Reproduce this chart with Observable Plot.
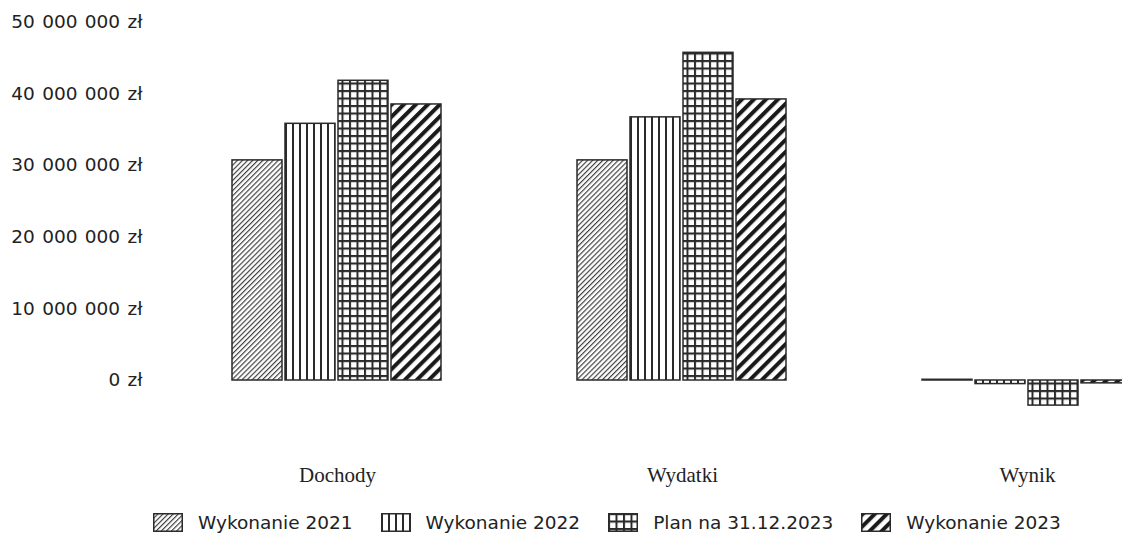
<!DOCTYPE html>
<html><head><meta charset="utf-8">
<script src="https://cdn.jsdelivr.net/npm/d3@7"></script>
<script src="https://cdn.jsdelivr.net/npm/@observablehq/plot@0.6"></script>
<style>
html,body{margin:0;padding:0;background:#fff;overflow:hidden;width:1122px;height:551px}
#chart svg{display:block}
#chart g[aria-label="y-axis tick label"] text{word-spacing:1.5px}
.legend{display:flex;align-items:center;height:34px;margin-left:153px;font-family:"DejaVu Sans";font-size:18.5px;color:#222;white-space:nowrap}
.item{display:flex;align-items:center;margin-right:28px}
.item svg{margin-right:15px;display:block}
</style></head><body>
<svg width="0" height="0" style="position:absolute"><defs>
<pattern id="p2021" patternUnits="userSpaceOnUse" width="3.6" height="3.6" patternTransform="rotate(45)"><rect width="3.6" height="3.6" fill="#fff"/><line x1="0.6" y1="0" x2="0.6" y2="3.6" stroke="#333" stroke-width="1.1"/></pattern>
<pattern id="p2022" patternUnits="userSpaceOnUse" width="7" height="10"><rect width="7" height="10" fill="#fff"/><line x1="1" y1="0" x2="1" y2="10" stroke="#2a2a2a" stroke-width="2"/></pattern>
<pattern id="pPlan" patternUnits="userSpaceOnUse" width="7.5" height="7.5"><rect width="7.5" height="7.5" fill="#fff"/><path d="M0 1H7.5M1 0V7.5" stroke="#2a2a2a" stroke-width="2"/></pattern>
<pattern id="p2023" patternUnits="userSpaceOnUse" width="8.5" height="8.5" patternTransform="rotate(45)"><rect width="8.5" height="8.5" fill="#fff"/><rect x="0" y="0" width="4" height="8.5" fill="#1a1a1a"/></pattern>
</defs></svg>
<div id="chart"></div><div class="legend" id="legend"></div>
<script>
const groups = ["Dochody", "Wydatki", "Wynik"];
const series = ["Wykonanie 2021", "Wykonanie 2022", "Plan na 31.12.2023", "Wykonanie 2023"];
const dochody = [30.7e6, 35.8e6, 41.8e6, 38.5e6];
const wydatki = [30.7e6, 36.7e6, 45.7e6, 39.2e6];
const wynik = [0.1e6, -0.5e6, -3.5e6, -0.4e6];
const yTicks = [0, 10e6, 20e6, 30e6, 40e6, 50e6];
const patterns = ["url(#p2021)", "url(#p2022)", "url(#pPlan)", "url(#p2023)"];

const valuesByGroup = [dochody, wydatki, wynik];
const data = [];
groups.forEach((g, gi) => series.forEach((s, si) => data.push({group: g, series: s, value: valuesByGroup[gi][si]})));

const fmt = d => d3.format(",")(d).replace(/,/g, " ") + " zł";

const chart = Plot.plot({
  width: 1122, height: 505,
  marginTop: 21.5, marginBottom: 89.15, marginLeft: 0, marginRight: 0,
  style: {fontFamily: "DejaVu Sans", fontSize: "18.5px", color: "#222", background: "#fff", overflow: "visible"},
  fx: {domain: groups, range: [164.5, 1199.5], paddingInner: 0.374, paddingOuter: 0.187, label: null},
  x: {domain: series, padding: 0.05, axis: null},
  y: {domain: [-5e6, 50e6], label: null},
  color: {type: "ordinal", domain: series, range: patterns},
  marks: [
    Plot.barY(data, {fx: "group", x: "series", y: "value", fill: "series", stroke: "#2a2a2a", strokeWidth: 1.5}),
    Plot.axisY({ticks: yTicks, tickSize: 0, tickPadding: 87, tickFormat: fmt, label: null, fontSize: 18.5, fill: "#222"}),
    Plot.axisFx({anchor: "bottom", tickSize: 0, tickPadding: 51, label: null, fontFamily: "Liberation Serif", fontSize: 21, fill: "#222"})
  ]
});
document.getElementById("chart").appendChild(chart);

const legend = d3.select("#legend");
series.forEach((s, i) => {
  const item = legend.append("div").attr("class", "item");
  const sv = item.append("svg").attr("width", 30).attr("height", 19);
  sv.append("rect").attr("x", 0.75).attr("y", 0.75).attr("width", 28.5).attr("height", 17.5)
    .attr("fill", patterns[i]).attr("stroke", "#2a2a2a").attr("stroke-width", 1.5);
  item.append("span").text(s);
});
</script>
</body></html>
